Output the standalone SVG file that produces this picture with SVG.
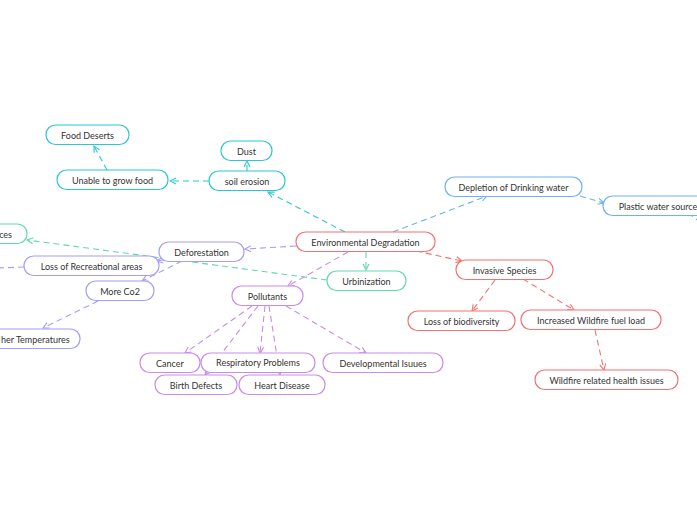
<svg xmlns="http://www.w3.org/2000/svg" width="697" height="520" viewBox="0 0 697 520">
<style>
text{font-family:"Lato","Noto Sans",sans-serif;font-size:9px;fill:#333;text-anchor:middle;dominant-baseline:central}
rect{fill:#fff;stroke-width:1.2}
.r rect{stroke:#f47272}.c rect{stroke:#2cc7d6}.b rect{stroke:#6db1f2}.g rect{stroke:#62d9ad}.l rect{stroke:#a59ef7}.p rect{stroke:#c98be9}
#edges path{fill:none;stroke-width:1.1;stroke-dasharray:6 4}
.er{stroke:#f47272}.ec{stroke:#2cc7d6}.eb{stroke:#6db1f2}.eg{stroke:#62d9ad}.el{stroke:#a59ef7}.ep{stroke:#c98be9}
</style>
<defs>
<marker id="mr" viewBox="0 0 8 8" refX="7" refY="4" markerWidth="8" markerHeight="8" orient="auto" markerUnits="userSpaceOnUse"><path d="M1,1 L7,4 L1,7" fill="none" stroke="#f47272" stroke-width="1.1"/></marker>
<marker id="mc" viewBox="0 0 8 8" refX="7" refY="4" markerWidth="8" markerHeight="8" orient="auto" markerUnits="userSpaceOnUse"><path d="M1,1 L7,4 L1,7" fill="none" stroke="#2cc7d6" stroke-width="1.1"/></marker>
<marker id="mb" viewBox="0 0 8 8" refX="7" refY="4" markerWidth="8" markerHeight="8" orient="auto" markerUnits="userSpaceOnUse"><path d="M1,1 L7,4 L1,7" fill="none" stroke="#6db1f2" stroke-width="1.1"/></marker>
<marker id="mg" viewBox="0 0 8 8" refX="7" refY="4" markerWidth="8" markerHeight="8" orient="auto" markerUnits="userSpaceOnUse"><path d="M1,1 L7,4 L1,7" fill="none" stroke="#62d9ad" stroke-width="1.1"/></marker>
<marker id="ml" viewBox="0 0 8 8" refX="7" refY="4" markerWidth="8" markerHeight="8" orient="auto" markerUnits="userSpaceOnUse"><path d="M1,1 L7,4 L1,7" fill="none" stroke="#a59ef7" stroke-width="1.1"/></marker>
<marker id="mp" viewBox="0 0 8 8" refX="7" refY="4" markerWidth="8" markerHeight="8" orient="auto" markerUnits="userSpaceOnUse"><path d="M1,1 L7,4 L1,7" fill="none" stroke="#c98be9" stroke-width="1.1"/></marker>
</defs>
<rect x="0" y="0" width="697" height="520" fill="#fdfdfd" stroke="none"/>
<g id="edges">
<path class="ec" d="M345,232 L268,192" marker-end="url(#mc)"/>
<path class="ec" d="M247,171 L247,161" marker-end="url(#mc)"/>
<path class="ec" d="M209,181 L170,181" marker-end="url(#mc)"/>
<path class="ec" d="M107,170 L94,146" marker-end="url(#mc)"/>
<path class="eb" d="M393,232 L487,196" marker-end="url(#mb)"/>
<path class="eb" d="M580,196 L604,203" marker-end="url(#mb)"/>
<path class="eb" d="M688,213 L700,222"/>
<path class="er" d="M416,251 L462,261" marker-end="url(#mr)"/>
<path class="er" d="M495,280 L472,311" marker-end="url(#mr)"/>
<path class="er" d="M523,279 L574,310" marker-end="url(#mr)"/>
<path class="er" d="M595,330 L604,370" marker-end="url(#mr)"/>
<path class="eg" d="M366,252 L366,270" marker-end="url(#mg)"/>
<path class="eg" d="M327,280 L27,240" marker-end="url(#mg)"/>
<path class="el" d="M296,246 L245,249" marker-end="url(#ml)"/>
<path class="el" d="M174,258 L157,261" marker-end="url(#ml)"/>
<path class="el" d="M182,261 L142,281" marker-end="url(#ml)"/>
<path class="el" d="M98,301 L43,328" marker-end="url(#ml)"/>
<path class="el" d="M24,267 L-2,268"/>
<path class="ep" d="M348,252 L288,286" marker-end="url(#mp)"/>
<path class="ep" d="M252,306 L185,353" marker-end="url(#mp)"/>
<path class="ep" d="M258,306 L205,375" marker-end="url(#mp)"/>
<path class="ep" d="M265,306 L260,353" marker-end="url(#mp)"/>
<path class="ep" d="M269,306 L280,375" marker-end="url(#mp)"/>
<path class="ep" d="M286,306 L366,353" marker-end="url(#mp)"/>
</g>
<g id="n-env" class="r"><rect x="296" y="232" width="139" height="19.5" rx="9.5"/><text x="365.5" y="242">Environmental Degradation</text></g>
<g id="n-soil" class="c"><rect x="209" y="171" width="76" height="19.5" rx="9.5"/><text x="247" y="181">soil erosion</text></g>
<g id="n-dust" class="c"><rect x="221" y="141" width="51" height="19.5" rx="9.5"/><text x="246.5" y="151">Dust</text></g>
<g id="n-unable" class="c"><rect x="57" y="170" width="111" height="19.5" rx="9.5"/><text x="112.5" y="180">Unable to grow food</text></g>
<g id="n-food" class="c"><rect x="46" y="125" width="83" height="19.5" rx="9.5"/><text x="87.5" y="135">Food Deserts</text></g>
<g id="n-depl" class="b"><rect x="445" y="177" width="137" height="19.5" rx="9.5"/><text x="513.5" y="187">Depletion of Drinking water</text></g>
<g id="n-plastic" class="b"><rect x="603" y="196" width="104" height="19.5" rx="9.5"/><text x="658" y="206">Plastic water source</text></g>
<g id="n-inv" class="r"><rect x="456" y="260" width="97" height="19.5" rx="9.5"/><text x="504.5" y="270">Invasive Species</text></g>
<g id="n-bio" class="r"><rect x="408" y="311" width="107" height="19.5" rx="9.5"/><text x="461.5" y="321">Loss of biodiversity</text></g>
<g id="n-fuel" class="r"><rect x="521" y="310" width="140" height="19.5" rx="9.5"/><text x="591" y="320">Increased Wildfire fuel load</text></g>
<g id="n-health" class="r"><rect x="535" y="370" width="143" height="19.5" rx="9.5"/><text x="606.5" y="380">Wildfire related health issues</text></g>
<g id="n-urb" class="g"><rect x="327" y="271" width="79" height="19.5" rx="9.5"/><text x="366.5" y="281">Urbinization</text></g>
<g id="n-res" class="g"><rect x="-60" y="224" width="87" height="19.5" rx="9.5"/><text x="12" y="234" style="text-anchor:end">ces</text></g>
<g id="n-def" class="l"><rect x="159" y="242" width="85" height="19.5" rx="9.5"/><text x="201.5" y="252">Deforestation</text></g>
<g id="n-rec" class="l"><rect x="24" y="256" width="135" height="19.5" rx="9.5"/><text x="91.5" y="266">Loss of Recreational areas</text></g>
<g id="n-co2" class="l"><rect x="86" y="281" width="68" height="19.5" rx="9.5"/><text x="120" y="291">More Co2</text></g>
<g id="n-temp" class="l"><rect x="-40" y="329" width="120" height="19.5" rx="9.5"/><text x="1" y="339" style="text-anchor:start">her Temperatures</text></g>
<g id="n-poll" class="p"><rect x="232" y="286" width="71" height="19.5" rx="9.5"/><text x="267.5" y="296">Pollutants</text></g>
<g id="n-cancer" class="p"><rect x="140" y="353" width="60" height="19.5" rx="9.5"/><text x="170" y="363">Cancer</text></g>
<g id="n-resp" class="p"><rect x="201" y="353" width="114" height="19.5" rx="9.5"/><text x="258" y="362">Respiratory Problems</text></g>
<g id="n-birth" class="p"><rect x="155" y="375" width="82" height="19.5" rx="9.5"/><text x="196" y="385">Birth Defects</text></g>
<g id="n-heart" class="p"><rect x="239" y="375" width="86" height="19.5" rx="9.5"/><text x="282" y="385">Heart Disease</text></g>
<g id="n-dev" class="p"><rect x="323" y="353" width="120" height="19.5" rx="9.5"/><text x="383" y="363">Developmental Isuues</text></g>
</svg>
